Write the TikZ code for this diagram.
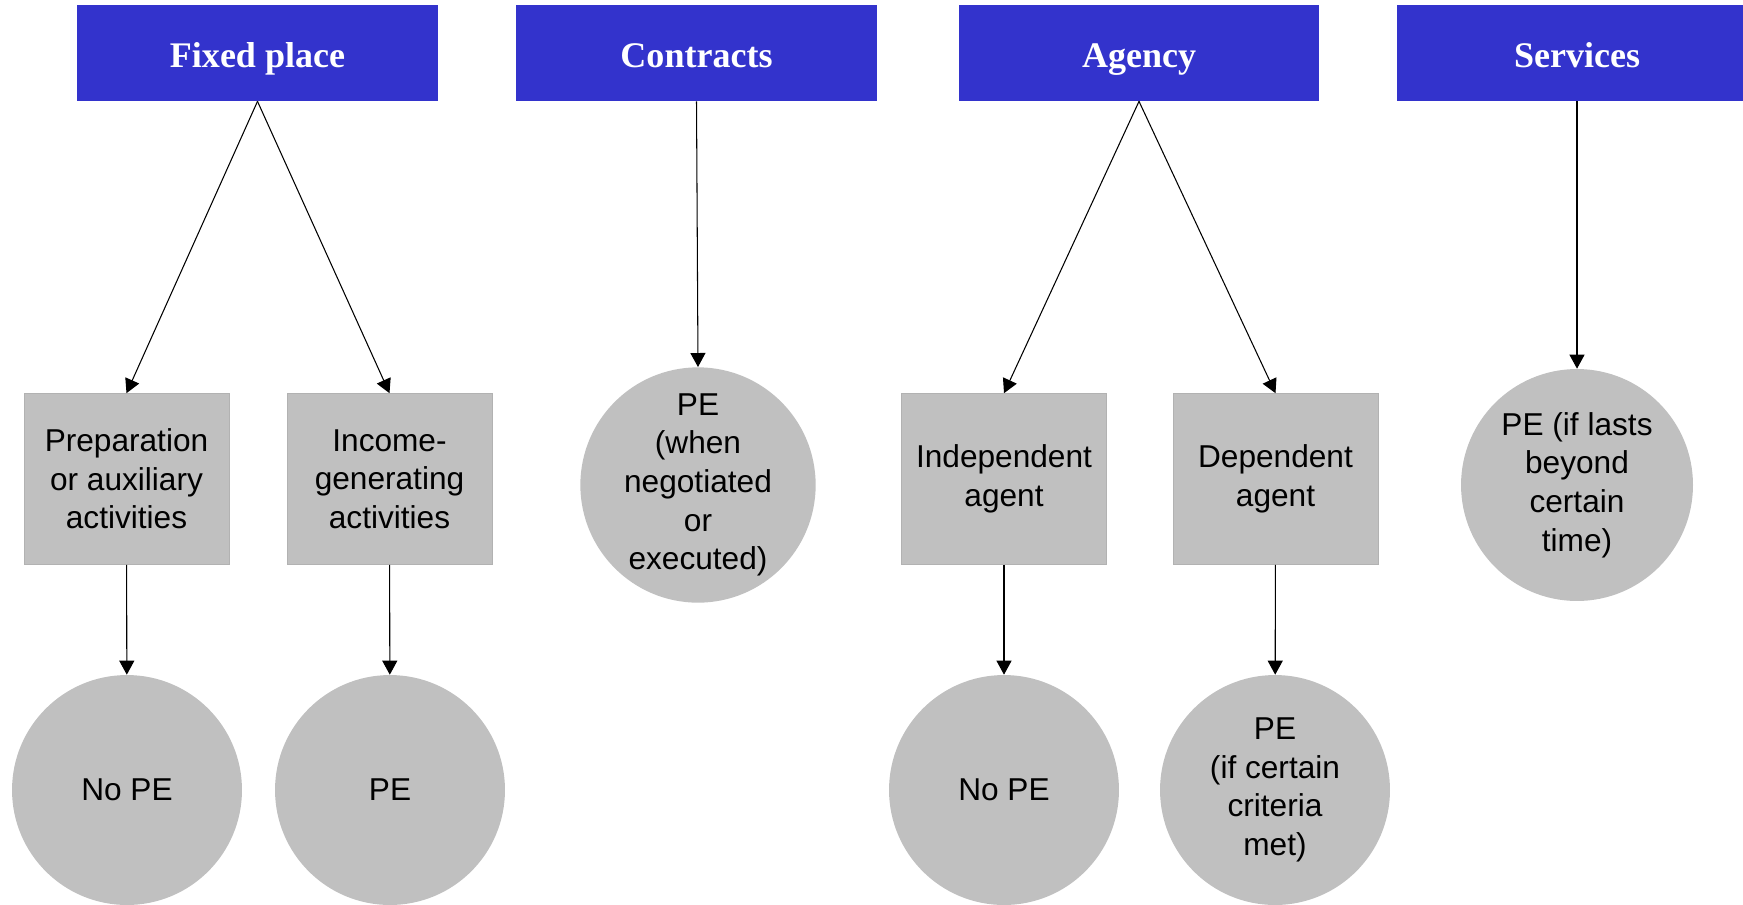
\documentclass[tikz,border=0pt]{standalone}
\usepackage{fontspec}
\setmainfont{Liberation Sans}
\newfontfamily\headfont{Liberation Serif}
\usetikzlibrary{arrows.meta}
\definecolor{headblue}{RGB}{51,51,204}
\definecolor{peGrey}{RGB}{192,192,192}
\begin{document}
\begin{tikzpicture}[x=0.02cm, y=-0.02cm,
    head/.style={fill=headblue, text=white, minimum width=7.22cm, minimum height=1.92cm, inner sep=0pt,
        text height=16pt, text depth=0pt, font=\headfont\bfseries\fontsize{20.5}{24}\selectfont},
    greybox/.style={fill=peGrey, draw=black!30, line width=0.4pt, minimum width=4.1cm, minimum height=3.42cm,
        align=center, inner sep=0pt, font=\fontsize{18}{22}\selectfont},
    greycirc/.style={circle, fill=peGrey, minimum size=4.6cm, align=center, inner sep=0pt,
        font=\fontsize{18}{22}\selectfont},
    link/.style={-{Triangle[length=0.28cm,width=0.3cm]}, line width=0.6pt}]
                \useasboundingbox (0,0) rectangle (1743,904);
                \node[head] (fixed) at (257.5,53) {Fixed place};
                \node[head] (contracts) at (696.5,53) {Contracts};
                \node[head] (agency) at (1139,53) {Agency};
                \node[head] (services) at (1577,53) {Services};
                \node[greybox] (prep) at (126.5,479) {Preparation\\or auxiliary\\activities};
                \node[greybox] (income) at (389.5,479) {Income-\\generating\\activities};
                \node[greybox] (indep) at (1004,479) {Independent\\agent};
                \node[greybox] (dep) at (1275.5,479) {Dependent\\agent};
                \node[greycirc, minimum size=4.68cm] (peContract) at (698,485) {PE\\(when\\negotiated\\or\\executed)};
                \node[greycirc, minimum size=4.64cm] (peService) at (1577,485) {PE (if lasts\\beyond\\certain\\time)};
                \node[greycirc] (noPrep) at (127,790) {No PE};
                \node[greycirc] (peIncome) at (390,790) {PE};
                \node[greycirc] (noIndep) at (1004,790) {No PE};
                \node[greycirc] (peDep) at (1275,790) {PE\\(if certain\\criteria\\met)};
                \draw[link] (fixed.south) -- (prep.north);
                \draw[link] (fixed.south) -- (income.north);
                \draw[link] (contracts.south) -- (peContract.north);
                \draw[link] (agency.south) -- (indep.north);
                \draw[link] (agency.south) -- (dep.north);
                \draw[link] (services.south) -- (peService.north);
                \draw[link] (prep) -- (noPrep);
                \draw[link] (income) -- (peIncome);
                \draw[link] (indep) -- (noIndep);
                \draw[link] (dep) -- (peDep);
            \end{tikzpicture}
\end{document}
